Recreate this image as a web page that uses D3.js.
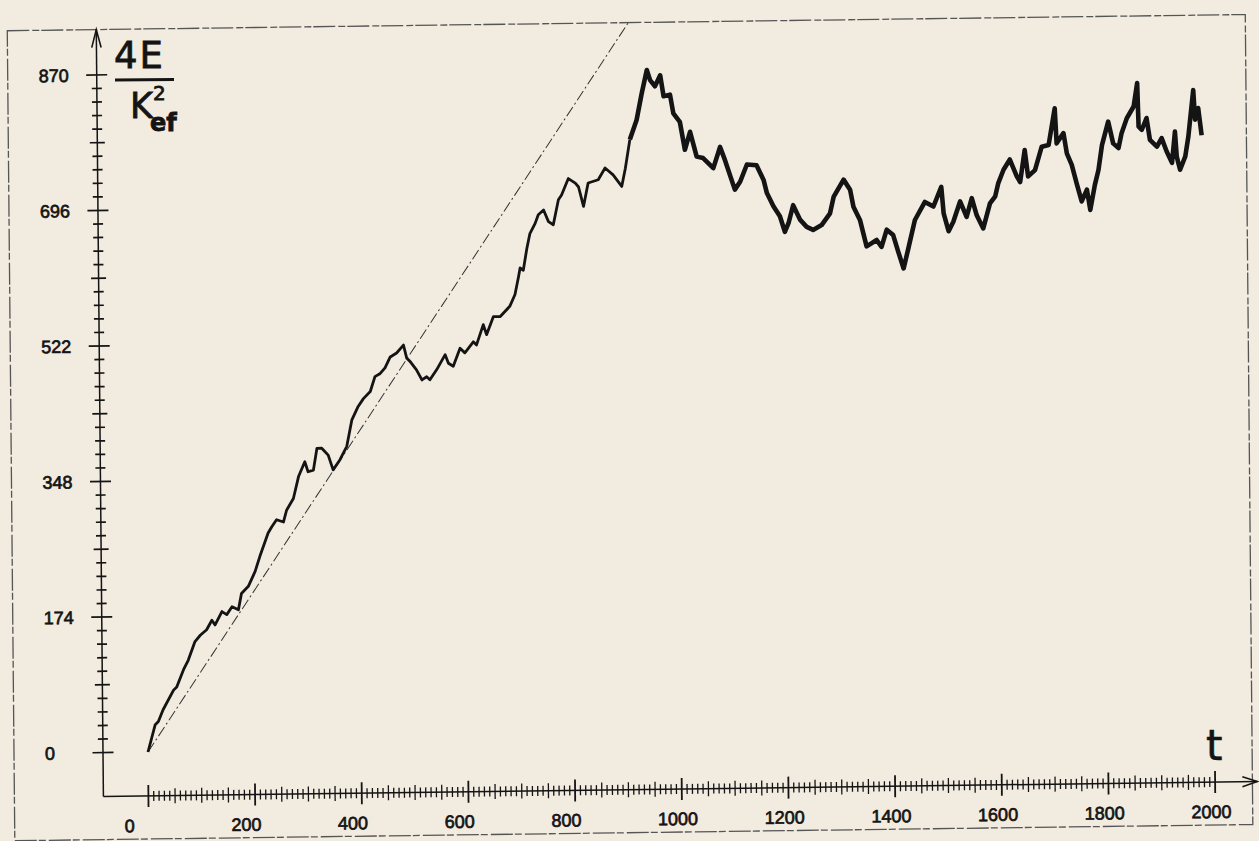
<!DOCTYPE html>
<html>
<head>
<meta charset="utf-8">
<script src="https://cdn.jsdelivr.net/npm/d3@7"></script>
<style>
  html, body { margin: 0; padding: 0; background: #f2ebe0; }
  svg { display: block; }
</style>
</head>
<body>
<svg id="chart" width="1259" height="841"></svg>
<script>
// energy curve, first (steep) part: [t, 4E/k^2]
const riseSeries = [
  [0,0],[14,35],[20,39],[29,54],[49,79],[55,83],[68,105],[77,117],[90,141],[100,149],
  [112,156],[122,168],[128,162],[141,179],[150,175],[160,185],[172,181],[178,202],[191,211],
  [204,230],[213,249],[229,279],[236,287],[245,296],[258,293],[264,308],[277,323],[287,351],
  [299,370],[305,357],[315,359],[322,387],[331,387],[343,378],[352,359],[365,372],[378,389],
  [388,423],[400,440],[410,450],[423,459],[432,478],[442,482],[451,489],[461,503],[473,508],
  [486,518],[492,501],[498,497],[510,486],[520,473],[529,477],[535,473],[548,486],[564,505],
  [570,494],[579,490],[592,513],[601,507],[617,521],[623,517],[636,543],[642,530],[655,553],
  [668,553],[686,566],[696,581],[703,604],[706,615],[712,612],[719,640],[725,659],[735,672],
  [741,683],[751,689],[760,674],[769,670],[779,702],[785,708],[798,729],[811,723],[817,718],
  [826,693],[835,723],[854,727],[867,742],[882,733],[898,718],[905,741],[914,778]
];

// noisy saturated part
const plateauSeries = [
  [914,778],[927,803],[937,837],[947,867],[953,854],[962,846],[972,860],[978,833],[990,835],
  [996,811],[1008,800],[1017,764],[1027,787],[1039,755],[1051,753],[1070,740],[1083,767],
  [1092,750],[1110,712],[1120,722],[1133,744],[1151,743],[1164,724],[1170,707],[1182,690],
  [1194,677],[1203,657],[1210,668],[1219,691],[1232,672],[1244,663],[1256,659],[1272,665],
  [1288,680],[1295,701],[1314,723],[1326,710],[1332,688],[1344,671],[1356,637],[1375,645],
  [1384,636],[1394,658],[1406,651],[1415,630],[1425,608],[1434,633],[1447,670],[1466,693],
  [1482,687],[1497,712],[1501,678],[1510,655],[1519,667],[1532,693],[1544,673],[1554,697],
  [1563,675],[1575,658],[1588,690],[1598,699],[1604,716],[1614,733],[1626,746],[1639,724],
  [1645,717],[1654,758],[1660,724],[1673,732],[1686,762],[1699,764],[1711,811],[1714,766],
  [1727,779],[1733,753],[1742,738],[1751,714],[1760,691],[1770,706],[1776,680],[1785,712],
  [1792,731],[1799,763],[1811,793],[1820,765],[1830,759],[1836,778],[1846,797],[1859,812],
  [1866,842],[1868,786],[1874,782],[1883,797],[1889,769],[1902,760],[1911,771],[1920,754],
  [1930,739],[1936,779],[1939,747],[1945,730],[1955,747],[1961,772],[1971,832],[1974,794],
  [1980,809],[1986,774]
];

// straight reference line from the origin
const refLine = [[0, 0], [915, 930]];

const xLabels = [0, 200, 400, 600, 800, 1000, 1200, 1400, 1600, 1800, 2000];
const yLabels = [0, 174, 348, 522, 696, 870];
const xMinorStep = 10;
const yMinorStep = 17.4;

const svg = d3.select("#chart");
const ink = "#141414";

const x = d3.scaleLinear().domain([0, 2000]).range([0, 1066.7]);
const y = d3.scaleLinear().domain([0, 870]).range([0, -677.7]);

const axX = -45, axY = 44;   // axes sit a little left of / below the data origin

// the scanned sheet is slightly skewed, so the whole plot is drawn in a sheared frame
const g = svg.append("g")
    .attr("transform", "translate(148,752) matrix(1,-0.0131,0.0093,1,0,0)");

// frame
g.append("rect")
    .attr("x", -134).attr("y", -723)
    .attr("width", 1238).attr("height", 810)
    .attr("fill", "none")
    .attr("stroke", "#555")
    .attr("stroke-width", 1.3)
    .attr("stroke-dasharray", "22 3 7 2");

// axes
g.append("line")
    .attr("x1", axX).attr("y1", axY).attr("x2", axX).attr("y2", -723)
    .attr("stroke", ink).attr("stroke-width", 1.5);
g.append("path")
    .attr("d", `M${axX - 4.7},-705 L${axX},-723 L${axX + 4.7},-705`)
    .attr("fill", "none").attr("stroke", ink).attr("stroke-width", 1.6);

g.append("line")
    .attr("x1", axX).attr("y1", axY).attr("x2", 1109).attr("y2", axY)
    .attr("stroke", ink).attr("stroke-width", 1.5);
g.append("path")
    .attr("d", `M1094,${axY - 5} L1109,${axY} L1094,${axY + 5}`)
    .attr("fill", "none").attr("stroke", ink).attr("stroke-width", 1.6);

// y ticks
const yTicks = d3.range(0, 51).map(i => ({ i: i, v: i * yMinorStep }));
const yHalf = i => (i % 10 === 0 ? 10.5 : i % 5 === 0 ? 7.5 : 5);
g.selectAll(".ytick")
    .data(yTicks)
    .enter()
    .append("line")
    .attr("class", "ytick")
    .attr("x1", d => axX - yHalf(d.i))
    .attr("x2", d => axX + yHalf(d.i))
    .attr("y1", d => y(d.v))
    .attr("y2", d => y(d.v))
    .attr("stroke", ink)
    .attr("stroke-width", 1.7);

// x ticks
const xTicks = d3.range(0, 201).map(i => ({ i: i, v: i * xMinorStep }));
const xHalf = i => (i % 20 === 0 ? 11 : i % 5 === 0 ? 7.5 : 5);
g.selectAll(".xtick")
    .data(xTicks)
    .enter()
    .append("line")
    .attr("class", "xtick")
    .attr("x1", d => x(d.v))
    .attr("x2", d => x(d.v))
    .attr("y1", d => axY - xHalf(d.i))
    .attr("y2", d => axY + xHalf(d.i))
    .attr("stroke", ink)
    .attr("stroke-width", d => (d.i % 20 === 0 ? 1.8 : 1.3));

// tick labels (plotter style: left aligned)
g.selectAll(".ylab")
    .data(yLabels)
    .enter()
    .append("text")
    .attr("class", "ylab")
    .attr("x", axX - 58)
    .attr("y", d => y(d))
    .attr("dy", "0.36em")
    .text(d => d);

g.selectAll(".xlab")
    .data(xLabels)
    .enter()
    .append("text")
    .attr("class", "xlab")
    .attr("x", d => x(d) - 24)
    .attr("y", 80)
    .text(d => d);

g.selectAll(".ylab, .xlab")
    .attr("font-family", "'Liberation Sans', Arial, sans-serif")
    .attr("font-size", 18)
    .attr("fill", ink)
    .attr("stroke", ink)
    .attr("stroke-width", 0.7);

// reference line
const line = d3.line().x(d => x(d[0])).y(d => y(d[1]));

g.append("path")
    .datum(refLine)
    .attr("d", line)
    .attr("fill", "none")
    .attr("stroke", "#333")
    .attr("stroke-width", 1)
    .attr("stroke-dasharray", "11 3 2 3");

g.append("path")
    .datum(riseSeries)
    .attr("d", line)
    .attr("fill", "none")
    .attr("stroke", ink)
    .attr("stroke-width", 2.8)
    .attr("stroke-linejoin", "round");

g.append("path")
    .datum(plateauSeries)
    .attr("d", line)
    .attr("fill", "none")
    .attr("stroke", ink)
    .attr("stroke-width", 4.6)
    .attr("stroke-linejoin", "round");

// axis titles (hand lettered on the original)
const hand = svg.append("g")
    .attr("font-family", "'DejaVu Sans', sans-serif")
    .attr("fill", ink)
    .attr("stroke", ink)
    .attr("stroke-width", 0.8);

hand.append("text").attr("x", 114).attr("y", 68)
    .attr("font-size", 37).attr("letter-spacing", 2).text("4E");
hand.append("line")
    .attr("x1", 115).attr("y1", 80).attr("x2", 174).attr("y2", 79.5)
    .attr("stroke-width", 3);
hand.append("text").attr("x", 130).attr("y", 118)
    .attr("font-size", 35).text("K");
hand.append("text").attr("x", 153).attr("y", 100)
    .attr("font-size", 20).text("2");
hand.append("text").attr("x", 150).attr("y", 131)
    .attr("font-size", 24).attr("font-weight", "bold").text("ef");

hand.append("text").attr("x", 1206).attr("y", 760)
    .attr("font-size", 42).attr("stroke-width", 0.6).text("t");
</script>
</body>
</html>
